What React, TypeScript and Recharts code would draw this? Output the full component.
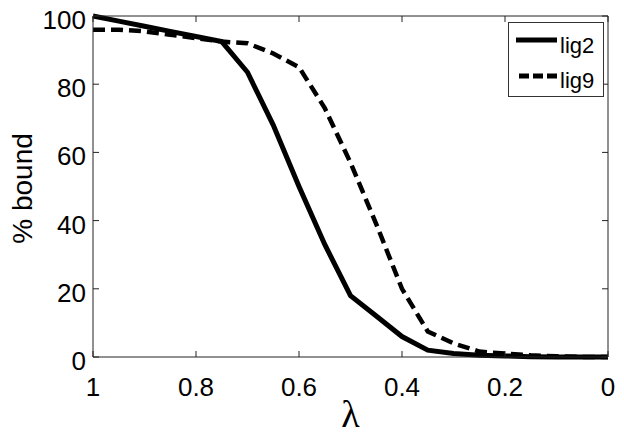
import { LineChart, Line, XAxis, YAxis } from "recharts";

const lambdas = [1, 0.95, 0.9, 0.85, 0.8, 0.75, 0.7, 0.65, 0.6, 0.55, 0.5, 0.45, 0.4, 0.35, 0.3, 0.25, 0.2, 0.15, 0.1, 0.05, 0];
const lig2 = [100, 98.5, 97, 95.5, 94, 92.5, 83.5, 68, 50, 33, 18, 12, 6, 2, 1, 0.5, 0.3, 0.1, 0, 0, 0];
const lig9 = [96, 96, 95.5, 94.5, 93.5, 92.5, 92, 89, 85, 73, 57, 39, 20, 7.5, 4, 1.6, 1, 0.5, 0.2, 0, 0];
const xTicks = [1, 0.8, 0.6, 0.4, 0.2, 0];
const yTicks = [0, 20, 40, 60, 80, 100];
const seriesNames = ["lig2", "lig9"];

const data = lambdas.map((lam, i) => ({ lam, lig2: lig2[i], lig9: lig9[i] }));

const FONT = "'Liberation Sans', Arial, sans-serif";

const XTick = ({ x, y, payload }: any) => (
  <text x={x} y={y + 19} textAnchor="middle" fontSize={26} fill="#000" fontFamily={FONT}>
    {payload.value}
  </text>
);

const YTick = ({ x, y, payload }: any) => (
  <text x={x} y={y + 13} textAnchor="end" fontSize={26} fill="#000" fontFamily={FONT}>
    {payload.value}
  </text>
);

const NoTick = () => <g />;

const LegendBox = () => (
  <svg width={96} height={75} style={{ display: "block" }}>
    <rect x={0.5} y={0.5} width={95} height={74} fill="#fff" stroke="#333" strokeWidth={1} />
    <line x1={8} x2={49} y1={18} y2={18} stroke="#000" strokeWidth={5} />
    <text x={52} y={31} fontSize={22} fontFamily={FONT} fill="#000">{seriesNames[0]}</text>
    <line x1={11} x2={50} y1={54} y2={54} stroke="#000" strokeWidth={5} strokeDasharray="10 4" />
    <text x={52} y={66} fontSize={22} fontFamily={FONT} fill="#000">{seriesNames[1]}</text>
  </svg>
);

export default function App() {
  return (
    <div style={{ position: "absolute", left: 0, top: 0, width: 624, height: 436, background: "#fff", fontFamily: FONT }}>
      <LineChart width={624} height={436} data={data} margin={{ top: 0, right: 0, left: 0, bottom: 0 }}>
        <XAxis
          dataKey="lam"
          type="number"
          domain={[0, 1]}
          reversed
          ticks={xTicks}
          height={79}
          tickSize={-6}
          tickMargin={26}
          stroke="#222"
          tick={XTick}
          label={({ viewBox }: any) => (
            <text
              x={viewBox.x + viewBox.width / 2}
              y={427}
              textAnchor="middle"
              fontSize={38}
              fontFamily="'Liberation Serif', serif"
              fill="#000"
            >
              λ
            </text>
          )}
        />
        <XAxis
          xAxisId="top"
          dataKey="lam"
          orientation="top"
          type="number"
          domain={[0, 1]}
          reversed
          ticks={xTicks}
          height={16}
          tickSize={-6}
          stroke="#222"
          tick={NoTick}
        />
        <YAxis
          type="number"
          domain={[0, 100]}
          ticks={yTicks}
          width={93}
          tickSize={-6}
          tickMargin={13}
          stroke="#222"
          tick={YTick}
          label={({ viewBox }: any) => {
            const cy = viewBox.y + viewBox.height / 2;
            return (
              <text
                x={32}
                y={cy + 2}
                transform={`rotate(-90 32 ${cy + 2})`}
                textAnchor="middle"
                fontSize={28}
                fontFamily={FONT}
                fill="#000"
              >
                % bound
              </text>
            );
          }}
        />
        <YAxis
          yAxisId="right"
          orientation="right"
          type="number"
          domain={[0, 100]}
          ticks={yTicks}
          width={16}
          tickSize={-6}
          stroke="#222"
          tick={NoTick}
        />
        {/* invisible series so the mirrored frame axes get drawn */}
        <Line
          xAxisId="top"
          yAxisId="right"
          dataKey="lig2"
          stroke="none"
          dot={false}
          activeDot={false}
          legendType="none"
          isAnimationActive={false}
        />
        <Line
          type="linear"
          dataKey="lig2"
          stroke="#000"
          strokeWidth={5}
          dot={false}
          isAnimationActive={false}
        />
        <Line
          type="linear"
          dataKey="lig9"
          stroke="#000"
          strokeWidth={4.5}
          strokeDasharray="12 6"
          dot={false}
          isAnimationActive={false}
        />
      </LineChart>
      <div style={{ position: "absolute", left: 508, top: 22 }}>
        <LegendBox />
      </div>
    </div>
  );
}
